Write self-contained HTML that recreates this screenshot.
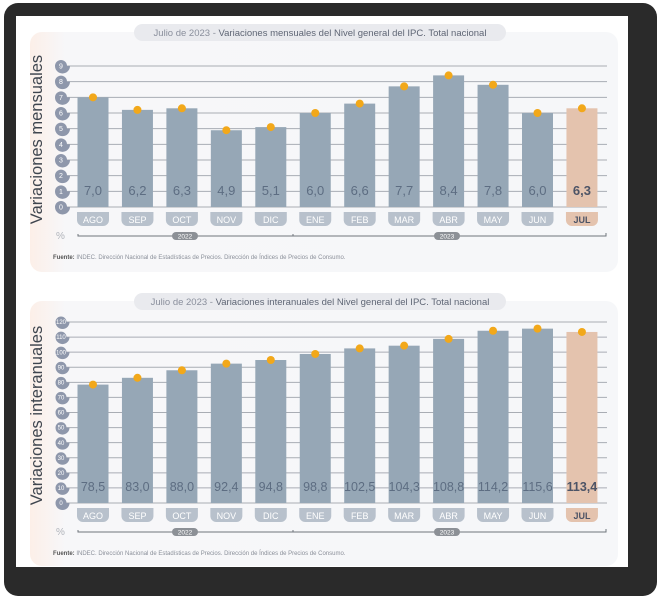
<!DOCTYPE html>
<html><head><meta charset="utf-8">
<style>
html,body{margin:0;padding:0;background:#fff;}
body{width:661px;height:600px;position:relative;overflow:hidden;font-family:"Liberation Sans",sans-serif;}
</style></head>
<body>
<svg id="svg" width="661" height="600" viewBox="0 0 661 600" xmlns="http://www.w3.org/2000/svg">
  <defs>
    <linearGradient id="pinkEdge" x1="0" x2="1" y1="0" y2="0">
      <stop offset="0" stop-color="#fcefe8"/>
      <stop offset="0.06" stop-color="#f7f7f9"/>
      <stop offset="1" stop-color="#f6f7f9"/>
    </linearGradient>
  </defs>
  <rect x="4" y="3" width="653" height="593" rx="14" fill="#2a2a2a"/>
  <rect x="16" y="16" width="612" height="551" fill="#ffffff"/>
  <g id="top"></g>
  <g id="bot"></g>
</svg>
<script>
const months = ["AGO","SEP","OCT","NOV","DIC","ENE","FEB","MAR","ABR","MAY","JUN","JUL"];
const monthlyValues = [7.0,6.2,6.3,4.9,5.1,6.0,6.6,7.7,8.4,7.8,6.0,6.3];
const monthlyTicks = [0,1,2,3,4,5,6,7,8,9];
const annualValues = [78.5,83.0,88.0,92.4,94.8,98.8,102.5,104.3,108.8,114.2,115.6,113.4];
const annualTicks = [0,10,20,30,40,50,60,70,80,90,100,110,120];

const NS="http://www.w3.org/2000/svg";
function mk(tag,attrs,parent){const e=document.createElementNS(NS,tag);for(const k in attrs)e.setAttribute(k,attrs[k]);parent.appendChild(e);return e;}
function fmt(v){return v.toFixed(1).replace('.',',');}

function drawChart(g,cfg){
  const {top,zeroY,topY,maxV,values,ticks,title,ytitle,tickR,tickFont,valFont}=cfg;
  const yS=v=>zeroY-(v/maxV)*(zeroY-topY);
  const xS=i=>93+i*44.45;
  let p=mk('rect',{x:30,y:top+8,width:588,height:cfg.panelH,rx:12,fill:'url(#pinkEdge)'},g);
  
  
  let tp=mk('rect',{x:134,y:top,width:372,height:17,rx:8.5,fill:'#e9eaee'},g);
  
  
  let tt=mk('text',{x:320,y:top+12,'text-anchor':'middle','font-size':9.5,fill:'#8a8f9c'},g);
  
  
  tt.innerHTML='Julio de 2023 - <tspan fill="#5f6675">'+title+'</tspan>';
  let yt=mk('text',{x:0,y:0,'text-anchor':'middle','font-size':16.5,fill:'#3f454e',transform:`translate(42,${(zeroY+topY)/2+3}) rotate(-90)`},g);
  yt.textContent=ytitle;
  
  
  ticks.forEach(t=>{
    const y=yS(t);
    let l=mk('line',{x1:66,x2:607,y1:y,y2:y,stroke:'#a9adb4','stroke-width':1},g);
    
    
    let c=mk('path',{d:`M${61-tickR},${y} a${tickR},${tickR} 0 1 1 ${tickR*2},0 l3,0 a${tickR},${tickR} 0 0 1 ${-tickR*2-3},0 z`,fill:'#8e97ab'},g);
    
    
    let tx=mk('text',{x:61,y:y+tickFont*0.35,'text-anchor':'middle','font-size':tickFont,fill:'#ffffff'},g);
    tx.textContent=t;
    
    
  });
  values.forEach((v,i)=>{
    const x=xS(i), last=i===values.length-1;
    let b=mk('rect',{x:x-15.5,y:yS(v),width:31,height:zeroY-yS(v),fill:last?'#e4c3ae':'#96a7b6'},g);
    
    
    let d=mk('circle',{cx:x,cy:yS(v),r:4,fill:'#f2a81a'},g);
    
    
    let vl=mk('text',{x:x,y:zeroY-12,'text-anchor':'middle','font-size':valFont,fill:last?'#4d5466':'#5d6d82','font-weight':last?'bold':'normal'},g);
    vl.textContent=fmt(v);
    
    
    let mp=mk('path',{d:`M${x-16},${zeroY+5} h32 v8 a6,6 0 0 1 -6,6 h-20 a6,6 0 0 1 -6,-6 z`,fill:last?'#e4c3ae':'#b8c1cc'},g);
    
    
    let ml=mk('text',{x:x,y:zeroY+16,'text-anchor':'middle','font-size':9,fill:last?'#4d5466':'#ffffff','font-weight':last?'bold':'normal'},g);
    ml.textContent=months[i];
    
    
  });
  const ly=zeroY+29;
  let pc=mk('text',{x:56,y:ly+3,'font-size':10,fill:'#b0b4bb'},g);
  pc.textContent='%';
  
  
  let yl=mk('path',{d:`M78,${ly-2} v2 H606 v-3 M293,${ly} v-2`,stroke:'#6f747c','stroke-width':1,fill:'none'},g);
  
  
  [['2022',185],['2023',447]].forEach(([yr,cx])=>{
    let r=mk('rect',{x:cx-13,y:ly-4,width:26,height:8,rx:4,fill:'#8c9096'},g);
    
    
    let t=mk('text',{x:cx,y:ly+2.5,'text-anchor':'middle','font-size':6.5,fill:'#fff'},g);
    t.textContent=yr;
    
    
  });
  let src=mk('text',{x:53,y:ly+23,'font-size':6,fill:'#8a8f99'},g);
  src.innerHTML='<tspan font-weight="bold" fill="#555">Fuente:</tspan> INDEC. Dirección Nacional de Estadísticas de Precios. Dirección de Índices de Precios de Consumo.';
  
  
}
drawChart(document.getElementById('top'),{top:24,panelH:240,zeroY:207,topY:66,maxV:9,values:monthlyValues,ticks:monthlyTicks,
  title:'Variaciones mensuales del Nivel general del IPC. Total nacional',ytitle:'Variaciones mensuales',tickR:6,tickFont:7,valFont:13});
drawChart(document.getElementById('bot'),{top:293,panelH:265,zeroY:503,topY:322,maxV:120,values:annualValues,ticks:annualTicks,
  title:'Variaciones interanuales del Nivel general del IPC. Total nacional',ytitle:'Variaciones interanuales',tickR:5.5,tickFont:6,valFont:12.5});
</script>
</body></html>
